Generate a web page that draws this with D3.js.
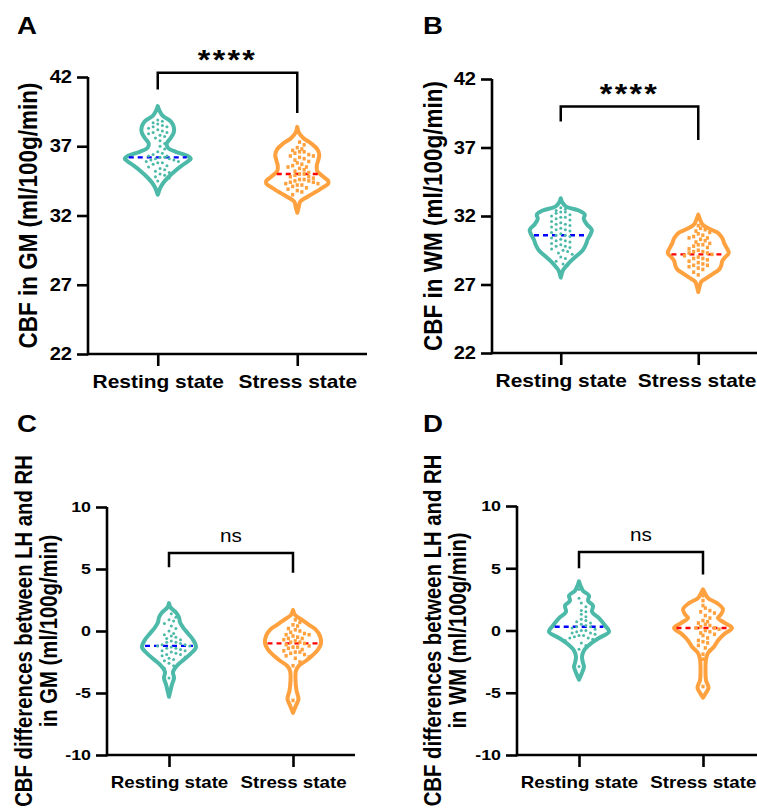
<!DOCTYPE html>
<html>
<head>
<meta charset="utf-8">
<script src="https://cdn.jsdelivr.net/npm/d3@7"></script>
<style>
  body { margin: 0; background: #fff; }
  svg { display: block; font-family: "Liberation Sans", Arial, sans-serif; }
</style>
</head>
<body>
<svg id="chart" width="757" height="808"></svg>
<script>
/* global d3 */

//Categories + ticks
var categories = ['Resting state', 'Stress state'];
var cbfTicks = [22, 27, 32, 37, 42];
var diffTicks = [-10, -5, 0, 5, 10];
var sigLabels = ['****', '****', 'ns', 'ns'];

//Individual subject values
var gmRestPoints = [38.9, 38.8, 38.7, 38.6, 38.5, 38.4, 38.4, 38.3, 38.2, 38.1, 38.0, 38.0, 37.9, 37.8, 37.7, 37.6, 37.5, 37.4, 37.2, 37.0,
  36.8, 36.6, 36.5, 36.4, 36.3, 36.3, 36.2, 36.2, 36.1, 36.1, 36.0, 36.0, 35.9, 35.9, 35.8, 35.8, 35.7, 35.6, 35.5, 35.4,
  35.3, 35.2, 35.1, 35.0, 34.9, 34.8, 34.7, 34.5];
var gmStressPoints = [37.3, 37.1, 36.9, 36.8, 36.7, 36.6, 36.6, 36.5, 36.4, 36.3, 36.3, 36.2, 36.1, 36.0, 35.9, 35.8, 35.7, 35.6, 35.5, 35.5,
  35.4, 35.3, 35.2, 35.1, 35.0, 35.0, 34.9, 34.8, 34.8, 34.7, 34.6, 34.6, 34.5, 34.5, 34.4, 34.4, 34.3, 34.3, 34.2, 34.2,
  34.1, 34.0, 33.9, 33.8, 33.7, 33.5];
var wmRestPoints = [32.6, 32.5, 32.4, 32.3, 32.3, 32.2, 32.1, 32.0, 31.9, 31.9, 31.8, 31.7, 31.6, 31.5, 31.4, 31.4, 31.3, 31.2, 31.1, 31.0,
  31.0, 30.9, 30.8, 30.7, 30.6, 30.6, 30.5, 30.4, 30.3, 30.2, 30.2, 30.1, 30.0, 29.9, 29.8, 29.8, 29.7, 29.6, 29.5, 29.4,
  29.3, 29.2, 29.0, 28.9, 28.7, 28.5, 28.4];
var wmStressPoints = [31.3, 31.1, 31.0, 30.9, 30.8, 30.7, 30.6, 30.5, 30.4, 30.4, 30.3, 30.2, 30.1, 30.0, 29.9, 29.9, 29.8, 29.7, 29.6, 29.5,
  29.4, 29.4, 29.3, 29.3, 29.2, 29.1, 29.0, 28.9, 28.9, 28.8, 28.7, 28.6, 28.5, 28.4, 28.4, 28.3, 28.2, 28.1, 27.9, 27.7];
var gmDiffRestPoints = [1.4, 1.1, 0.9, 0.8, 0.6, 0.4, 0.2, 0.0, -0.2, -0.3, -0.4, -0.5, -0.6, -0.7, -0.8, -0.9, -0.9, -1.0, -1.1, -1.1,
  -1.2, -1.2, -1.3, -1.4, -1.4, -1.5, -1.6, -1.6, -1.7, -1.8, -1.9, -1.9, -2.0, -2.1, -2.2, -2.3, -2.4, -2.6, -2.8, -3.0, -3.8];
var gmDiffStressPoints = [0.9, 0.7, 0.5, 0.4, 0.2, 0.1, 0.0, -0.1, -0.2, -0.3, -0.3, -0.4, -0.5, -0.6, -0.6, -0.7, -0.8, -0.9, -0.9, -1.0,
  -1.1, -1.2, -1.3, -1.3, -1.4, -1.5, -1.6, -1.7, -1.7, -1.8, -1.9, -2.0, -2.1, -2.2, -2.5, -2.8, -5.6];
var wmDiffRestPoints = [3.3, 2.6, 2.2, 1.9, 1.6, 1.5, 1.3, 1.1, 0.9, 0.8, 0.7, 0.6, 0.5, 0.4, 0.3, 0.3, 0.2, 0.1, 0.0, 0.0,
  -0.1, -0.2, -0.2, -0.3, -0.4, -0.4, -0.5, -0.6, -0.6, -0.7, -0.8, -1.0, -1.2, -1.5, -2.9];
var wmDiffStressPoints = [2.8, 2.4, 2.0, 1.8, 1.6, 1.5, 1.4, 1.2, 1.0, 0.8, 0.7, 0.6, 0.5, 0.4, 0.3, 0.2, 0.2, 0.1, 0.0, -0.1,
  -0.2, -0.3, -0.4, -0.6, -0.8, -0.9, -1.0, -1.2, -1.4, -1.6, -1.9, -2.3, -4.5];

//Violin outlines: [value, relative density]
var gmRestDensity = [[39.9,0],[39.6,1.5],[39.2,5],[38.8,13],[38.4,16],[38.0,16],[37.6,13],[37.2,9],[36.9,10],[36.6,18],
  [36.3,30],[36.1,33],[35.9,30],[35.6,24],[35.2,17],[34.8,11],[34.4,6],[34.0,2.5],[33.7,1],[33.5,0]];
var gmStressDensity = [[38.4,0],[38.0,1.5],[37.6,6],[37.2,14],[36.8,20],[36.4,22],[36.0,21],[35.6,19.5],[35.2,20],[34.8,26],
  [34.5,31],[34.3,31],[34.0,25],[33.6,16],[33.3,9],[33.0,3],[32.6,1.5],[32.2,0]];
var wmRestDensity = [[33.3,0],[33.0,1.5],[32.7,5],[32.4,18],[32.1,24],[31.8,23],[31.4,26],[31.0,31],[30.7,30],[30.3,27],
  [29.9,25],[29.5,22],[29.1,16],[28.7,10],[28.3,5],[28.0,2],[27.5,0]];
var wmStressDensity = [[32.1,0],[31.8,1.5],[31.4,4],[31.1,10],[30.8,19],[30.4,24],[30.0,26],[29.6,29],[29.3,30.5],[29.0,27],
  [28.7,24],[28.4,23],[28.1,21],[27.8,15],[27.5,9],[27.2,3],[26.9,1.5],[26.45,0]];
var gmDiffRestDensity = [[2.25,0],[1.9,1.5],[1.5,7],[1.1,10],[0.7,11],[0.3,14],[-0.2,19],[-0.7,24],[-1.3,27],[-1.8,22],
  [-2.3,15],[-2.8,8],[-3.3,4],[-3.8,5],[-4.3,3],[-4.8,1.5],[-5.3,0]];
var gmDiffStressDensity = [[1.7,0],[1.3,2],[0.9,9],[0.5,16],[0.1,23],[-0.4,27],[-1.0,28],[-1.5,25],[-2.0,19],[-2.4,13],
  [-2.8,6],[-3.2,3],[-4.0,2.5],[-4.8,3.5],[-5.5,5.5],[-6.0,3],[-6.6,0]];
var wmDiffRestDensity = [[3.95,0],[3.6,1.5],[3.2,4],[2.8,10],[2.4,9],[2.0,14],[1.5,13],[1.0,20],[0.4,26],[-0.1,30],
  [-0.6,20],[-1.1,11],[-1.6,5],[-2.1,3],[-2.6,4],[-2.9,5],[-3.4,3],[-3.95,0]];
var wmDiffStressDensity = [[3.3,0],[3.0,2],[2.6,5],[2.2,14],[1.7,20],[1.3,18],[1.0,15],[0.6,22],[0.2,29],[-0.3,21],
  [-0.8,15],[-1.3,11],[-1.8,5],[-2.3,3],[-3.3,2.5],[-4.0,3],[-4.6,5.5],[-5.0,3],[-5.4,0]];

//Medians (dashed lines)
var gmMedians = [36.2, 35.0];
var wmMedians = [30.6, 29.2];
var gmDiffMedians = [-1.2, -1.0];
var wmDiffMedians = [0.3, 0.2];

//Significance brackets [bar, left leg end, right leg end, label centre]
var gmBracket = [42.3, 41.1, 39.4, 43.6];
var wmBracket = [40.0, 38.9, 37.55, 41.3];
var gmDiffBracket = [6.3, 5.15, 4.7, 7.6];
var wmDiffBracket = [6.3, 5.0, 4.5, 7.6];

var colors = ['#4dbaa9', '#ffa13e'];
var medianColors = ['#0000ff', '#ff0000'];
var stretch = 1.15;
var pageW = 757;

var panels = [
  { letter: 'A', lx: 17, ly: 34, yLabel: ['CBF in GM (ml/100g/min)'], labelX: [28], labelSize: 22.5, tickFont: 17.5, catFont: 18.2,
    x0: 88, x1: 367, yTop: 77, yBot: 354, domain: [22, 42], ticks: cbfTicks,
    points: [gmRestPoints, gmStressPoints], dens: [gmRestDensity, gmStressDensity], med: gmMedians, br: gmBracket, sig: sigLabels[0] },
  { letter: 'B', lx: 423, ly: 34, yLabel: ['CBF in WM (ml/100g/min)'], labelX: [433], labelSize: 22.5, tickFont: 17.5, catFont: 18.2,
    x0: 492, x1: 767, yTop: 79, yBot: 353, domain: [22, 42], ticks: cbfTicks,
    points: [wmRestPoints, wmStressPoints], dens: [wmRestDensity, wmStressDensity], med: wmMedians, br: wmBracket, sig: sigLabels[1] },
  { letter: 'C', lx: 17, ly: 432, yLabel: ['CBF differences between LH and RH', 'in GM (ml/100g/min)'], labelX: [24, 48.5], labelSize: 20.3, tickFont: 15.5, catFont: 16.3,
    x0: 107, x1: 355, yTop: 507, yBot: 755, domain: [-10, 10], ticks: diffTicks,
    points: [gmDiffRestPoints, gmDiffStressPoints], dens: [gmDiffRestDensity, gmDiffStressDensity], med: gmDiffMedians, br: gmDiffBracket, sig: sigLabels[2] },
  { letter: 'D', lx: 423, ly: 432, yLabel: ['CBF differences between LH and RH', 'in WM (ml/100g/min)'], labelX: [433, 457.5], labelSize: 20.3, tickFont: 15.5, catFont: 16.3,
    x0: 517, x1: 765, yTop: 506, yBot: 755, domain: [-10, 10], ticks: diffTicks,
    points: [wmDiffRestPoints, wmDiffStressPoints], dens: [wmDiffRestDensity, wmDiffStressDensity], med: wmDiffMedians, br: wmDiffBracket, sig: sigLabels[3] }
];

var svg = d3.select('#chart');
var maxDens = d3.max(panels, function(p){ return d3.max(p.dens, function(dd){ return d3.max(dd, function(d){ return d[1]; }); }); });
var w = d3.scaleLinear().domain([0, maxDens]).range([0, 33]);

var lerpDens = function(dens, v){
  for (var i = 0; i < dens.length - 1; i++) {
    var a = dens[i], b = dens[i + 1];
    if (v <= a[0] && v >= b[0]) return a[1] + (b[1] - a[1]) * (a[0] - v) / (a[0] - b[0]);
  }
  return 0;
};

panels.forEach(function(p){
  var g = svg.append('g');
  var x = d3.scalePoint().domain(categories).range([p.x0, p.x1]).padding(0.5);
  var y = d3.scaleLinear().domain(p.domain).range([p.yBot, p.yTop]);

  //Panel letter
  g.append('text').attr('transform', 'translate(' + p.lx + ',' + p.ly + ') scale(' + stretch + ',1)')
    .style('font-size', '24px').style('font-weight', 'bold').text(p.letter);

  //Y axis (plain hyphen minus, as in the figure)
  var ya = g.append('g').attr('transform', 'translate(' + p.x0 + ',0)')
    .call(d3.axisLeft(y).tickValues(p.ticks).tickFormat(function(d){ return String(d); })
      .tickSize(11).tickSizeOuter(0).tickPadding(5));
  //X axis
  var xa = g.append('g').attr('transform', 'translate(0,' + p.yBot + ')')
    .call(d3.axisBottom(x).tickSize(12).tickSizeOuter(0).tickPadding(9));
  [ya, xa].forEach(function(a){
    a.select('.domain').attr('stroke', '#000').attr('stroke-width', 2.6);
    a.selectAll('.tick line').attr('stroke', '#000').attr('stroke-width', 2.6);
    a.selectAll('.tick text').attr('fill', '#000').style('font-weight', 'bold')
      .style('font-family', '"Liberation Sans", Arial, sans-serif');
  });
  ya.selectAll('.tick text').style('font-size', p.tickFont + 'px');
  xa.selectAll('.tick text').style('font-size', p.catFont + 'px');
  ya.selectAll('.tick text').attr('x', -16 / stretch).attr('transform', 'scale(' + stretch + ',1)');
  xa.selectAll('.tick text').attr('transform', 'scale(' + stretch + ',1)');
  //Keep category labels inside the page
  xa.selectAll('.tick text').each(function(d){
    var half = this.getBBox().width * stretch / 2;
    var over = x(d) + half - (pageW - 1);
    if (over > 0) d3.select(this).attr('x', -over / stretch);
  });
  ya.select('.domain').attr('d', 'M0,' + (p.yBot + 1.3) + 'V' + p.yTop);
  xa.select('.domain').attr('d', 'M' + p.x0 + ',0H' + p.x1);

  //Y label
  var yc = (p.yTop + p.yBot) / 2;
  p.yLabel.forEach(function(t, i){
    g.append('text')
      .attr('transform', 'translate(' + p.labelX[i] + ',' + yc + ') scale(' + stretch + ',1) rotate(-90)')
      .attr('text-anchor', 'middle').attr('dominant-baseline', 'central')
      .style('font-size', p.labelSize + 'px').style('font-weight', 'bold').text(t);
  });

  //Violins
  categories.forEach(function(c, ci){
    var cx = x(c);
    var area = d3.area()
      .y(function(d){ return y(d[0]); })
      .x0(function(d){ return cx - w(d[1]); })
      .x1(function(d){ return cx + w(d[1]); })
      .curve(d3.curveCatmullRom);
    g.append('path').datum(p.dens[ci]).attr('d', area)
      .attr('fill', '#fff').attr('stroke', colors[ci]).attr('stroke-width', 4).attr('stroke-linejoin', 'round');

    //Median
    var hw = w(lerpDens(p.dens[ci], p.med[ci])) - 2.5;
    g.append('line').attr('x1', cx - hw).attr('x2', cx + hw)
      .attr('y1', y(p.med[ci])).attr('y2', y(p.med[ci]))
      .attr('stroke', medianColors[ci]).attr('stroke-width', 2.4).attr('stroke-dasharray', '5,4');

    //Scatter: bin into rows, spread in columns
    var rowH = 5.5, colW = 4.6;
    var rows = d3.group(p.points[ci], function(v){ return Math.round(y(v) / rowH); });
    var pts = [];
    rows.forEach(function(vs){
      vs.forEach(function(v, i){
        var k = (i % 2 ? 1 : -1) * Math.ceil(i / 2);
        var off = (vs.length % 2 ? k : k + 0.5) * colW;
        pts.push({ x: cx + off, y: y(v) });
      });
    });
    if (ci === 0) {
      g.selectAll(null).data(pts).enter().append('circle')
        .attr('cx', function(d){ return d.x; }).attr('cy', function(d){ return d.y; })
        .attr('r', 1.5).attr('fill', colors[ci]);
    } else {
      g.selectAll(null).data(pts).enter().append('rect')
        .attr('x', function(d){ return d.x - 1.6; }).attr('y', function(d){ return d.y - 1.8; })
        .attr('width', 3.2).attr('height', 3.6).attr('fill', colors[ci]);
    }
  });

  //Significance bracket
  var xl = x(categories[0]), xr = x(categories[1]);
  g.append('path')
    .attr('d', 'M' + xl + ',' + y(p.br[1]) + 'V' + y(p.br[0]) + 'H' + xr + 'V' + y(p.br[2]))
    .attr('fill', 'none').attr('stroke', '#000').attr('stroke-width', 2.5);
  var isStars = p.sig.indexOf('*') >= 0;
  g.append('text')
    .attr('transform', 'translate(' + (xl + xr) / 2 + ',' + (y(p.br[3]) + (isStars ? 14 : 5)) + ') scale(' + stretch + ',1)')
    .attr('text-anchor', 'middle')
    .style('font-size', isStars ? '28px' : '18px')
    .style('font-weight', isStars ? 'bold' : 'normal')
    .style('letter-spacing', isStars ? '2px' : '0px')
    .text(p.sig);
});
</script>
</body>
</html>
